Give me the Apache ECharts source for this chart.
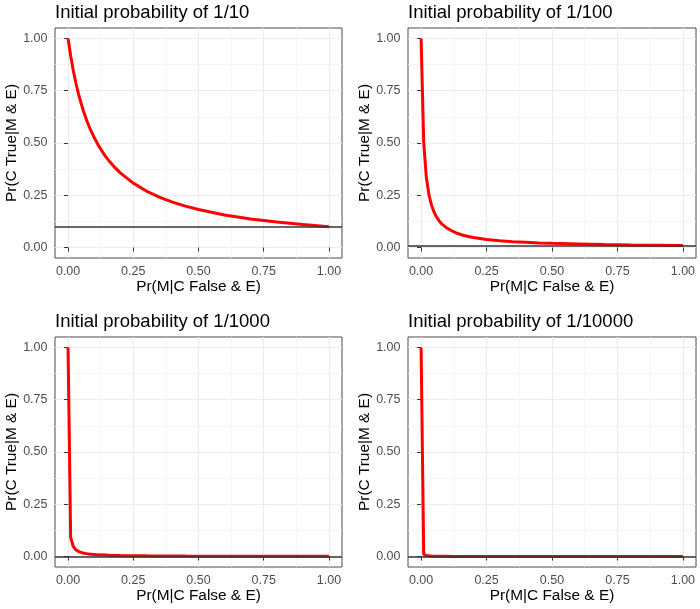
<!DOCTYPE html>
<html>
<head>
<meta charset="utf-8">
<script src="https://cdn.jsdelivr.net/npm/echarts@6/dist/echarts.min.js"></script>
<style>
html,body{margin:0;padding:0;background:#fff;}
#chart{width:700px;height:609px;}
</style>
</head>
<body>
<div id="chart"></div>
<script>
// Pr(M|C False & E) sample positions
const xValues = [0, 0.01, 0.02, 0.03, 0.04, 0.05, 0.06, 0.07, 0.08, 0.10, 0.12, 0.14, 0.16, 0.18, 0.20, 0.25, 0.30, 0.35, 0.40, 0.45, 0.50, 0.60, 0.70, 0.80, 0.90, 1.00];
// Pr(C True|M & E)
const prior10 = [1.000, 0.917, 0.847, 0.787, 0.735, 0.690, 0.649, 0.613, 0.581, 0.526, 0.481, 0.442, 0.410, 0.382, 0.357, 0.308, 0.270, 0.241, 0.217, 0.198, 0.182, 0.156, 0.137, 0.122, 0.110, 0.100];
const prior100 = [1.000, 0.503, 0.336, 0.252, 0.202, 0.168, 0.144, 0.126, 0.112, 0.092, 0.078, 0.067, 0.059, 0.053, 0.048, 0.039, 0.033, 0.028, 0.025, 0.022, 0.020, 0.017, 0.014, 0.012, 0.011, 0.010];
const prior1000 = [1.000, 0.091, 0.048, 0.032, 0.024, 0.020, 0.016, 0.014, 0.012, 0.010, 0.008, 0.007, 0.006, 0.0055, 0.005, 0.004, 0.0033, 0.0029, 0.0025, 0.0022, 0.002, 0.0017, 0.0014, 0.0013, 0.0011, 0.001];
const prior10000 = [1.000, 0.0099, 0.005, 0.0033, 0.0025, 0.002, 0.0017, 0.0014, 0.0012, 0.001, 0.0008, 0.0007, 0.0006, 0.00056, 0.0005, 0.0004, 0.00033, 0.00029, 0.00025, 0.00022, 0.0002, 0.00017, 0.00014, 0.00013, 0.00011, 0.0001];
// initial probabilities (horizontal reference lines)
const priors = [0.1, 0.01, 0.001, 0.0001];
const panelTitles = ["Initial probability of 1/10", "Initial probability of 1/100", "Initial probability of 1/1000", "Initial probability of 1/10000"];
const majorTicks = [0, 0.25, 0.5, 0.75, 1];
const minorTicks = [0.125, 0.375, 0.625, 0.875];
const xTitle = "Pr(M|C False & E)";
const yTitle = "Pr(C True|M & E)";

const curves = [prior10, prior100, prior1000, prior10000];
const FONT = "'Liberation Sans', Arial, Helvetica, sans-serif";

const layout = [
  {left: 55, top: 28, width: 287, height: 230, tLeft: 55, tTop: 3},
  {left: 408, top: 28, width: 288, height: 230, tLeft: 408, tTop: 3},
  {left: 55, top: 337, width: 287, height: 230, tLeft: 55, tTop: 312},
  {left: 408, top: 337, width: 288, height: 230, tLeft: 408, tTop: 312}
];

const grid = [], xAxis = [], yAxis = [], series = [], title = [];

layout.forEach((L, i) => {
  grid.push({left: L.left, top: L.top, width: L.width, height: L.height,
    show: true, borderColor: '#4a4a4a', borderWidth: 1, backgroundColor: '#fff', containLabel: false});
  title.push({text: panelTitles[i], left: L.tLeft, top: L.tTop, padding: 0,
    textStyle: {fontFamily: FONT, fontSize: 18.5, fontWeight: 'normal', color: '#000'}});
  // major axes
  xAxis.push({type: 'value', gridIndex: i, min: -0.05, max: 1.05, position: 'bottom',
    name: xTitle, nameLocation: 'middle', nameGap: 21,
    nameTextStyle: {fontFamily: FONT, fontSize: 15.4, color: '#000'},
    axisLine: {show: false},
    axisTick: {show: true, length: 4, customValues: majorTicks, lineStyle: {color: '#333', width: 1}},
    axisLabel: {show: true, customValues: majorTicks, margin: 7, fontFamily: FONT, fontSize: 12.5, color: '#4D4D4D',
      formatter: v => v.toFixed(2)},
    splitLine: {show: true, lineStyle: {color: '#EBEBEB', width: 1.1}},
    minorSplitLine: {show: false}
  });
  yAxis.push({type: 'value', gridIndex: i, min: -0.05, max: 1.05, position: 'left',
    name: yTitle, nameLocation: 'middle', nameGap: 34, nameRotate: 90,
    nameTextStyle: {fontFamily: FONT, fontSize: 15.4, color: '#000'},
    axisLine: {show: false},
    axisTick: {show: true, length: 4, customValues: majorTicks, lineStyle: {color: '#333', width: 1}},
    axisLabel: {show: true, customValues: majorTicks, margin: 7.5, fontFamily: FONT, fontSize: 12.5, color: '#4D4D4D',
      formatter: v => v.toFixed(2)},
    splitLine: {show: true, lineStyle: {color: '#EBEBEB', width: 1.1}}
  });
  // minor grid axes
  xAxis.push({type: 'value', gridIndex: i, min: -0.05, max: 1.05, position: 'top',
    axisLine: {show: false}, axisTick: {show: false, customValues: minorTicks},
    axisLabel: {show: false, customValues: minorTicks},
    splitLine: {show: true, lineStyle: {color: '#F3F3F3', width: 0.8}}
  });
  yAxis.push({type: 'value', gridIndex: i, min: -0.05, max: 1.05, position: 'right',
    axisLine: {show: false}, axisTick: {show: false, customValues: minorTicks},
    axisLabel: {show: false, customValues: minorTicks},
    splitLine: {show: true, lineStyle: {color: '#F3F3F3', width: 0.8}}
  });
  const xi = 2 * i, yi = 2 * i;
  series.push({type: 'line', xAxisIndex: xi, yAxisIndex: yi, z: 3,
    data: xValues.map((x, k) => [x, curves[i][k]]),
    showSymbol: false, symbol: 'none', smooth: false, silent: true,
    lineStyle: {color: '#FF0000', width: 3}
  });
  series.push({type: 'line', xAxisIndex: xi, yAxisIndex: yi, z: 4, data: [], silent: true,
    markLine: {silent: true, symbol: ['none', 'none'], animation: false,
      label: {show: false},
      lineStyle: {color: '#333', width: 1.5, type: 'solid'},
      data: [{yAxis: priors[i]}]}
  });
});

const chart = echarts.init(document.getElementById('chart'), null, {renderer: 'canvas'});
chart.setOption({animation: false, backgroundColor: '#fff', title, grid, xAxis, yAxis, series});
</script>
</body>
</html>
